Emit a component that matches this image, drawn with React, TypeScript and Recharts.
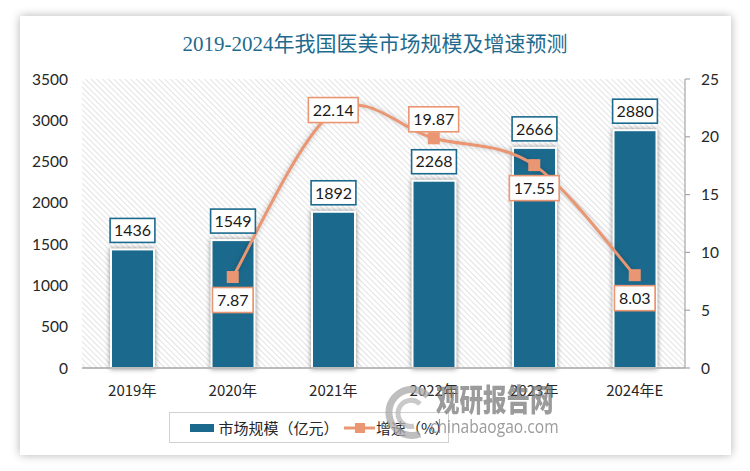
import React from 'react';
import { ComposedChart, Bar, Line, XAxis, YAxis, CartesianGrid, LabelList, Legend } from 'recharts';

const categories = ['2019年', '2020年', '2021年', '2022年', '2023年', '2024年E'];
const marketSize = [1436, 1549, 1892, 2268, 2666, 2880];
const growthRate: (number | null)[] = [null, 7.87, 22.14, 19.87, 17.55, 8.03];
const leftTicks = [0, 500, 1000, 1500, 2000, 2500, 3000, 3500];
const rightTicks = [0, 5, 10, 15, 20, 25];
const growthLabelPlacement = ['none', 'below', 'center', 'above', 'below', 'below'];

const data = categories.map((c, i) => ({ name: c, size: marketSize[i], growth: growthRate[i] }));

const BAR_COLOR = '#1b6a8d';
const LINE_COLOR = '#ea9672';
const NUM_FONT = 'Lato, "Noto Sans CJK SC", sans-serif';

// Excel-like smoothed line (Catmull-Rom style Bezier)
function smoothCurve(context: any) {
  let pts: number[][] = [];
  return {
    areaStart() {},
    areaEnd() {},
    lineStart() {
      pts = [];
    },
    point(x: number, y: number) {
      pts.push([+x, +y]);
    },
    lineEnd() {
      const n = pts.length;
      if (!n) return;
      context.moveTo(pts[0][0], pts[0][1]);
      for (let i = 0; i < n - 1; i++) {
        const p0 = pts[Math.max(i - 1, 0)];
        const p1 = pts[i];
        const p2 = pts[i + 1];
        const p3 = pts[Math.min(i + 2, n - 1)];
        context.bezierCurveTo(
          p1[0] + (p2[0] - p0[0]) / 6,
          p1[1] + (p2[1] - p0[1]) / 6,
          p2[0] - (p3[0] - p1[0]) / 6,
          p2[1] - (p3[1] - p1[1]) / 6,
          p2[0],
          p2[1]
        );
      }
    },
  };
}

function textWidth(s: string) {
  let w = 0;
  for (const ch of s) w += ch === '.' ? 4 : 9.2;
  return w;
}

const BarShape = (props: any) => {
  const { x, y, width, height } = props;
  if (!height || height <= 0) return null;
  return (
    <rect
      x={x}
      y={y}
      width={width}
      height={height}
      fill={BAR_COLOR}
      stroke="#ffffff"
      strokeWidth={2}
      style={{ filter: 'drop-shadow(0px 0px 2.5px rgba(0,0,0,0.45))' }}
    />
  );
};

const BarLabel = (props: any) => {
  const { x, y, width, value } = props;
  const s = String(value);
  const w = textWidth(s) + 8;
  const h = 24;
  const cx = x + width / 2;
  const cy = y - 19;
  return (
    <g>
      <rect x={cx - w / 2} y={cy - h / 2} width={w} height={h} fill="#fff" stroke={BAR_COLOR} strokeWidth={1.6} />
      <text x={cx} y={cy} dy="0.36em" textAnchor="middle" fontFamily={NUM_FONT} fontSize={16} fill="#1a1a1a">
        {s}
      </text>
    </g>
  );
};

const LineLabel = (props: any) => {
  const { x, y, value, index } = props;
  if (value == null) return null;
  const place = growthLabelPlacement[index];
  const s = Number(value).toFixed(2);
  const w = textWidth(s) + 9;
  const h = 25;
  const cy = place === 'below' ? y + 23 : place === 'above' ? y - 19 : y - 2;
  return (
    <g>
      <rect x={x - w / 2} y={cy - h / 2} width={w} height={h} fill="#fff" stroke={LINE_COLOR} strokeWidth={1.6} />
      <text x={x} y={cy} dy="0.36em" textAnchor="middle" fontFamily={NUM_FONT} fontSize={16} fill="#1a1a1a">
        {s}
      </text>
    </g>
  );
};

const SquareDot = (props: any) => {
  const { cx, cy, value } = props;
  if (value == null || cx == null || cy == null) return <g />;
  return <rect x={cx - 6} y={cy - 6} width={12} height={12} fill={LINE_COLOR} />;
};

const LegendContent = () => (
  <div
    style={{
      width: 280,
      height: 31,
      boxSizing: 'border-box',
      border: '1px solid #d0d0d0',
      background: '#fff',
      display: 'flex',
      alignItems: 'center',
      fontFamily: '"Noto Sans CJK SC", sans-serif',
      fontSize: 15,
      color: '#262626',
    }}
  >
    <div style={{ width: 25, height: 8, background: BAR_COLOR, marginLeft: 20, marginRight: 4 }} />
    <span>市场规模（亿元）</span>
    <svg width={32} height={12} style={{ marginLeft: 8, marginRight: 1 }}>
      <line x1={0} y1={6} x2={32} y2={6} stroke={LINE_COLOR} strokeWidth={3} />
      <rect x={11} y={1} width={10} height={10} fill={LINE_COLOR} />
    </svg>
    <span>增速（%）</span>
  </div>
);

export default function App() {
  return (
    <div style={{ position: 'absolute', left: 0, top: 0, width: 750, height: 471, background: '#fff', overflow: 'hidden' }}>
      <svg width={0} height={0} style={{ position: 'absolute' }}>
        <defs>
          <pattern id="hatch" width={4} height={4} patternUnits="userSpaceOnUse" patternTransform="rotate(-45)">
            <rect width={4} height={4} fill="#ffffff" />
            <line x1={0} y1={0} x2={0} y2={4} stroke="#d4d4d4" strokeWidth={1.3} />
          </pattern>
        </defs>
      </svg>
      <div
        style={{
          position: 'absolute',
          left: 20,
          top: 16,
          width: 711,
          height: 439,
          background: '#fff',
          boxShadow: '0 0 9px rgba(0,0,0,0.3)',
        }}
      />
      <div
        style={{
          position: 'absolute',
          left: 0,
          width: 750,
          top: 29,
          textAlign: 'center',
          fontFamily: '"Liberation Serif", "Noto Sans CJK SC", serif',
          fontSize: 21,
          letterSpacing: 0,
          color: '#1f6b8e',
          lineHeight: '30px',
        }}
      >
        2019-2024年我国医美市场规模及增速预测
      </div>
      <div style={{ position: 'absolute', left: 0, top: 0 }}>
        <ComposedChart width={750} height={471} data={data} margin={{ top: 79, right: 20, bottom: 73, left: 22 }}>
          <CartesianGrid horizontal={false} vertical={false} fill="url(#hatch)" fillOpacity={1} yAxisId="left" />
          <XAxis
            dataKey="name"
            axisLine={{ stroke: '#a6a6a6', strokeWidth: 1.5 }}
            tickLine={false}
            tickSize={0}
            tickMargin={17}
            height={30}
            tick={{ fontFamily: '"Noto Sans CJK SC", sans-serif', fontSize: 15, fill: '#262626' }}
            interval={0}
          />
          <YAxis
            yAxisId="left"
            orientation="left"
            domain={[0, 3500]}
            ticks={leftTicks}
            axisLine={false}
            tickLine={false}
            tickSize={0}
            tickMargin={14}
            width={60}
            tick={{ fontFamily: NUM_FONT, fontSize: 15.5, fill: '#262626' }}
          />
          <YAxis
            yAxisId="right"
            orientation="right"
            domain={[0, 25]}
            ticks={rightTicks}
            axisLine={{ stroke: '#a6a6a6', strokeWidth: 1.2 }}
            tickLine={{ stroke: '#a6a6a6', strokeWidth: 1.2 }}
            tickSize={5}
            tickMargin={11}
            width={45}
            tick={{ fontFamily: NUM_FONT, fontSize: 15.5, fill: '#262626', textAnchor: 'start' }}
          />
          <Bar yAxisId="left" dataKey="size" barSize={43} shape={<BarShape />} isAnimationActive={false}>
            <LabelList dataKey="size" content={<BarLabel />} />
          </Bar>
          <Line
            yAxisId="right"
            dataKey="growth"
            type={smoothCurve as any}
            stroke={LINE_COLOR}
            strokeWidth={3}
            dot={<SquareDot />}
            activeDot={false}
            isAnimationActive={false}
            style={{ filter: 'drop-shadow(0px 0px 2.5px rgba(0,0,0,0.25))' }}
          >
            <LabelList dataKey="growth" content={<LineLabel />} />
          </Line>
          <Legend
            verticalAlign="middle"
            align="center"
            layout="horizontal"
            content={<LegendContent />}
            wrapperStyle={{ position: 'absolute', left: 169, top: 412, width: 280, height: 31 }}
          />
        </ComposedChart>
      </div>
      <div style={{ position: 'absolute', left: 0, top: 0, pointerEvents: 'none', opacity: 0.75 }}>
        <svg width={750} height={471} style={{ position: 'absolute', left: 0, top: 0 }}>
          <path d="M 428 396 A 23 23 0 1 0 420 434" fill="none" stroke="#a9a9a9" strokeWidth={7} />
          <path d="M 420 404 A 13 13 0 1 0 414 426" fill="none" stroke="#b8b8b8" strokeWidth={5} />
        </svg>
        <div
          style={{
            position: 'absolute',
            left: 436,
            top: 381,
            fontFamily: '"Noto Sans CJK SC", sans-serif',
            fontWeight: 900,
            fontSize: 24,
            color: '#7a7a7a',
            letterSpacing: 0,
            transform: 'scale(0.98, 1.3)',
            transformOrigin: 'top left',
            lineHeight: '26px',
            whiteSpace: 'nowrap',
          }}
        >
          观研报告网
        </div>
        <div
          style={{
            position: 'absolute',
            left: 430,
            top: 414,
            fontFamily: '"Open Sans", sans-serif',
            fontSize: 19,
            color: '#7a7a7a',
            lineHeight: '24px',
            whiteSpace: 'nowrap',
            transform: 'scaleX(0.82)',
            transformOrigin: 'top left',
          }}
        >
          chinabaogao.com
        </div>
      </div>
    </div>
  );
}
